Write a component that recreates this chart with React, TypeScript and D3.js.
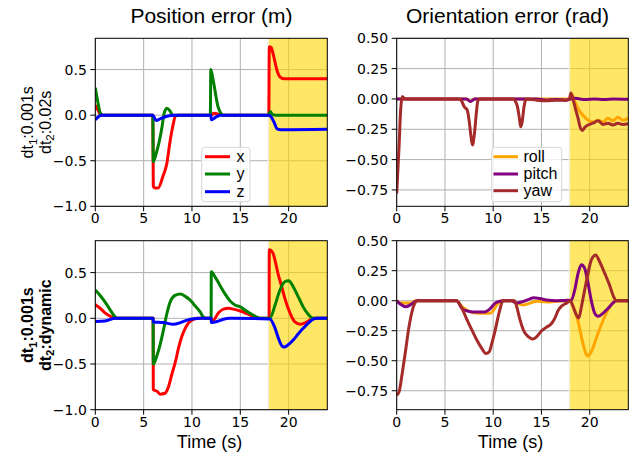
import React from "react";
import * as d3 from "d3";

type Pt = [number, number];

// ---- data (time in s, value) ----
const xTicks = [0, 5, 10, 15, 20];
const posTicks = [-1.0, -0.5, 0.0, 0.5];
const oriTicks = [-0.75, -0.5, -0.25, 0.0, 0.25, 0.5];
const colTitles = ["Position error (m)", "Orientation error (rad)"];
const posNames = ["x", "y", "z"];
const oriNames = ["roll", "pitch", "yaw"];
const posColors = ["#ff0000", "#008000", "#0000ff"];
const oriColors = ["#ffa500", "#800080", "#a52a2a"];
const shadeRange = [17.9, 24];

const posTopX: Pt[] = [[0,0.11],[0.3,0.05],[0.6,0],[5.95,0],[6.0,-0.78],[6.2,-0.8],[6.5,-0.8],[7.0,-0.67],[7.4,-0.53],[7.7,-0.31],[8.0,-0.13],[8.3,-0.01],[8.6,0],[11.95,0],[12.3,0.02],[12.8,0.01],[13.2,0],[17.95,0],[18.0,0.75],[18.2,0.74],[18.4,0.67],[18.8,0.49],[19.1,0.42],[19.5,0.40],[24,0.40]];
const posTopY: Pt[] = [[0,0.30],[0.2,0.18],[0.5,0.03],[0.8,0],[5.95,0],[6.0,-0.51],[6.3,-0.42],[6.9,-0.13],[7.1,0.01],[7.4,0.075],[7.7,0.05],[8.0,0],[11.9,0],[11.95,0.50],[12.2,0.38],[12.7,0.09],[13.0,0.02],[13.2,0],[17.9,0],[18.1,0.04],[18.3,0.01],[18.6,0],[24,0]];
const posTopZ: Pt[] = [[0,-0.05],[0.3,-0.02],[0.6,0],[5.95,0],[6.3,-0.06],[6.8,-0.035],[7.5,-0.01],[8.2,0],[11.95,0],[12.0,-0.05],[12.5,-0.02],[13.0,0],[17.9,0],[18.2,-0.02],[18.5,-0.08],[18.8,-0.15],[19.2,-0.16],[24,-0.155]];

const posBotX: Pt[] = [[0,0.15],[0.5,0.11],[1.0,0.06],[1.5,0.025],[2.1,0],[5.98,0],[6.0,-0.78],[6.4,-0.80],[6.7,-0.83],[7.2,-0.82],[7.6,-0.74],[7.9,-0.62],[8.3,-0.47],[8.6,-0.33],[8.95,-0.2],[9.3,-0.11],[9.65,-0.05],[10.0,-0.02],[10.5,0],[11.95,0],[12.15,-0.025],[12.75,0.06],[13.25,0.1],[13.8,0.11],[14.3,0.1],[15.0,0.08],[15.7,0.05],[16.35,0.02],[16.9,0],[17.98,0],[18.0,0.75],[18.35,0.72],[18.6,0.63],[18.9,0.49],[19.3,0.34],[19.6,0.22],[19.95,0.11],[20.3,0.02],[20.65,-0.04],[21.2,-0.065],[21.7,-0.05],[22.2,-0.02],[22.7,0],[24,0]];
const posBotY: Pt[] = [[0,0.31],[0.5,0.25],[1.0,0.18],[1.55,0.09],[2.1,0.01],[2.3,0],[5.98,0],[6.0,-0.5],[6.4,-0.40],[6.7,-0.29],[7.05,-0.13],[7.4,0.05],[7.75,0.18],[8.25,0.25],[8.8,0.265],[9.3,0.24],[9.8,0.2],[10.3,0.14],[10.85,0.07],[11.2,0.01],[11.4,0],[11.98,0],[12.0,0.51],[12.4,0.45],[12.9,0.36],[13.4,0.27],[13.95,0.19],[14.45,0.145],[15.0,0.125],[15.5,0.09],[16.0,0.055],[16.5,0.025],[16.9,0.005],[17.2,0],[18.05,0],[18.6,0.145],[19.1,0.31],[19.6,0.40],[20.0,0.41],[20.5,0.34],[21.0,0.235],[21.5,0.125],[22.0,0.047],[22.55,0],[24,0]];
const posBotZ: Pt[] = [[0,-0.036],[1.0,-0.03],[2.1,0],[5.98,0],[6.0,-0.04],[7.05,-0.047],[8.1,-0.065],[8.8,-0.047],[9.5,-0.02],[10.2,-0.005],[10.85,0],[11.98,0],[12.0,-0.045],[12.6,-0.035],[13.25,-0.01],[13.95,0],[18.05,-0.007],[18.6,-0.11],[18.95,-0.22],[19.3,-0.30],[19.55,-0.315],[19.95,-0.29],[20.5,-0.235],[21.0,-0.17],[21.5,-0.11],[22.0,-0.055],[22.55,-0.01],[22.9,0],[24,0]];

const oriTopRoll: Pt[] = [[0,0],[7.3,0],[7.65,-0.02],[8.0,0],[17.9,0],[18.1,0.04],[18.45,-0.02],[18.8,-0.08],[19.14,-0.12],[19.48,-0.15],[19.83,-0.175],[20.34,-0.19],[20.86,-0.175],[21.37,-0.19],[21.89,-0.16],[22.4,-0.18],[22.92,-0.15],[23.44,-0.175],[24,-0.16]];
const oriTopPitch: Pt[] = [[0,0],[7.2,0],[7.65,-0.02],[8.1,0],[14.5,0],[15.5,-0.01],[16.5,-0.005],[17.5,-0.01],[18.0,0],[18.5,0.005],[19.5,-0.005],[20.5,0],[21.5,-0.005],[22.5,0],[24,-0.003]];
const oriTopYaw: Pt[] = [[0,-0.78],[0.24,-0.4],[0.41,-0.09],[0.58,0.02],[0.76,0.005],[1.0,0],[6.5,0],[6.75,-0.02],[7.0,-0.065],[7.3,-0.09],[7.5,-0.175],[7.7,-0.31],[7.85,-0.38],[8.05,-0.29],[8.25,-0.12],[8.4,-0.02],[8.6,0],[12.1,0],[12.3,-0.02],[12.5,-0.06],[12.7,-0.15],[12.85,-0.23],[13.0,-0.19],[13.2,-0.06],[13.35,-0.01],[13.5,0],[14.5,-0.01],[15.5,-0.015],[16.5,-0.01],[17.6,-0.01],[17.9,0.0],[18.05,0.05],[18.3,-0.01],[18.55,-0.09],[18.8,-0.16],[19.0,-0.23],[19.25,-0.26],[19.48,-0.235],[19.83,-0.215],[20.34,-0.2],[20.86,-0.18],[21.37,-0.21],[21.89,-0.2],[22.4,-0.215],[22.92,-0.2],[23.44,-0.21],[24,-0.205]];

const oriBotRoll: Pt[] = [[0,0],[0.4,-0.02],[1.44,-0.02],[2.0,0],[6.2,0],[6.77,-0.05],[7.29,-0.08],[7.97,-0.1],[9.0,-0.105],[9.69,-0.105],[10.03,-0.08],[10.38,-0.035],[10.9,0],[11.9,0],[12.44,-0.02],[13.13,-0.035],[13.81,-0.02],[14.5,-0.005],[15.19,-0.008],[15.88,-0.01],[16.56,-0.005],[17.94,0],[18.45,-0.08],[18.8,-0.175],[19.14,-0.3],[19.48,-0.41],[19.76,-0.46],[20.17,-0.425],[20.69,-0.31],[21.2,-0.2],[21.72,-0.105],[22.23,-0.035],[22.68,0],[24,0]];
const oriBotPitch: Pt[] = [[0,0],[0.4,-0.03],[0.93,-0.05],[1.5,-0.03],[2.1,0],[6.2,0],[6.77,-0.065],[7.29,-0.085],[7.97,-0.095],[9.0,-0.095],[9.69,-0.065],[10.2,-0.02],[10.72,-0.005],[11.07,0],[11.9,0],[12.44,-0.02],[13.13,-0.005],[13.81,0.015],[14.16,0.025],[14.85,0.018],[15.53,0.005],[16.56,0],[18.1,0.005],[18.45,0.09],[18.8,0.23],[19.14,0.30],[19.48,0.27],[19.83,0.145],[20.17,0.0],[20.52,-0.105],[20.86,-0.13],[21.37,-0.105],[21.89,-0.065],[22.4,-0.02],[22.75,0],[24,0]];
const oriBotYaw: Pt[] = [[0,-0.785],[0.24,-0.76],[0.58,-0.6],[0.93,-0.41],[1.27,-0.22],[1.62,-0.08],[1.96,-0.01],[2.13,0],[6.2,0],[6.77,-0.065],[7.29,-0.16],[7.8,-0.245],[8.32,-0.33],[8.83,-0.4],[9.24,-0.44],[9.59,-0.425],[9.86,-0.355],[10.21,-0.245],[10.55,-0.12],[11.07,0],[12.2,0],[12.44,-0.05],[12.78,-0.16],[13.13,-0.245],[13.64,-0.3],[14.09,-0.32],[14.5,-0.3],[15.02,-0.25],[15.53,-0.22],[16.05,-0.19],[16.39,-0.145],[16.74,-0.08],[17.08,-0.045],[17.6,-0.02],[18.0,0],[18.28,-0.05],[18.63,-0.12],[18.87,-0.145],[19.14,-0.05],[19.48,0.09],[19.83,0.23],[20.17,0.34],[20.62,0.38],[21.03,0.325],[21.55,0.23],[22.06,0.13],[22.47,0.035],[22.75,0],[24,0]];

const SANS = "'Liberation Sans', Arial, sans-serif";
const TICKF = "'DejaVu Sans', sans-serif";

type PanelProps = {
  id: string;
  x0: number; x1: number; y0: number; y1: number;
  yDomain: [number, number];
  yTicks: number[];
  fmt: (v: number) => string;
  series: Pt[][];
  colors: string[];
  names?: string[];
  legend?: { x: number; y: number; w: number; h: number; lx0: number; lx1: number; tx: number; ys: number[] };
  xLabel?: boolean;
  title?: string;
  titleX?: number;
  xLabelX?: number;
};

function Panel(p: PanelProps) {
  const x = d3.scaleLinear().domain([0, 24]).range([p.x0, p.x1]);
  const y = d3.scaleLinear().domain(p.yDomain).range([p.y1, p.y0]);
  const line = d3.line<Pt>().x((d) => x(d[0])).y((d) => y(d[1])).curve(d3.curveMonotoneX);
  return (
    <g>
      <defs>
        <clipPath id={p.id}>
          <rect x={p.x0} y={p.y0} width={p.x1 - p.x0} height={p.y1 - p.y0} />
        </clipPath>
      </defs>
      {/* grid */}
      {xTicks.map((t) => (
        <line key={"gx" + t} x1={x(t)} x2={x(t)} y1={p.y0} y2={p.y1} stroke="#b0b0b0" strokeWidth={1} />
      ))}
      {p.yTicks.map((t) => (
        <line key={"gy" + t} x1={p.x0} x2={p.x1} y1={y(t)} y2={y(t)} stroke="#b0b0b0" strokeWidth={1} />
      ))}
      {/* shaded */}
      <rect x={x(shadeRange[0])} y={p.y0} width={x(shadeRange[1]) - x(shadeRange[0])} height={p.y1 - p.y0} fill="#ffd700" fillOpacity={0.6} />
      <line x1={x(shadeRange[0])} x2={x(shadeRange[0])} y1={p.y0} y2={p.y1} stroke="#f2eedc" strokeWidth={1.5} />
      <g clipPath={`url(#${p.id})`}>
        {p.series.map((s, i) => (
          <path key={i} d={line(s) || ""} fill="none" stroke={p.colors[i]} strokeWidth={3} strokeLinejoin="round" />
        ))}
      </g>
      {/* spines */}
      <rect x={p.x0} y={p.y0} width={p.x1 - p.x0} height={p.y1 - p.y0} fill="none" stroke="#000" strokeWidth={1} />
      {/* ticks */}
      {xTicks.map((t) => (
        <g key={"tx" + t}>
          <line x1={x(t)} x2={x(t)} y1={p.y1} y2={p.y1 + 5} stroke="#000" strokeWidth={1} />
          <text x={x(t)} y={p.y1 + 16.8} textAnchor="middle" fontFamily={TICKF} fontSize={14} fill="#000">{d3.format("d")(t)}</text>
        </g>
      ))}
      {p.yTicks.map((t) => (
        <g key={"ty" + t}>
          <line x1={p.x0 - 5} x2={p.x0} y1={y(t)} y2={y(t)} stroke="#000" strokeWidth={1} />
          <text x={p.x0 - 8.5} y={y(t)} dy="0.36em" textAnchor="end" fontFamily={TICKF} fontSize={14} fill="#000">{p.fmt(t)}</text>
        </g>
      ))}
      {p.legend && p.names && (
        <g>
          <rect x={p.legend.x} y={p.legend.y} width={p.legend.w} height={p.legend.h} rx={3} fill="#fff" fillOpacity={0.8} stroke="#d6d6d6" strokeWidth={1} />
          {p.names.map((n, i) => (
            <g key={n}>
              <line x1={p.legend!.lx0} x2={p.legend!.lx1} y1={p.legend!.ys[i]} y2={p.legend!.ys[i]} stroke={p.colors[i]} strokeWidth={3} />
              <text x={p.legend!.tx} y={p.legend!.ys[i] + 5} fontFamily={SANS} fontSize={16} fill="#000">{n}</text>
            </g>
          ))}
        </g>
      )}
      {p.title && (
        <text x={p.titleX} y={23.3} textAnchor="middle" fontFamily={SANS} fontSize={21} fill="#000">{p.title}</text>
      )}
      {p.xLabel && (
        <text x={p.xLabelX} y={447.5} textAnchor="middle" fontFamily={SANS} fontSize={18} fill="#000">Time (s)</text>
      )}
    </g>
  );
}

function RowLabel({ cy, bold, l2 }: { cy: number; bold: boolean; l2: string }) {
  const fw = bold ? "bold" : "normal";
  return (
    <g fontFamily={SANS} fontSize={16} fontWeight={fw} fill="#000">
      <text transform={`translate(33,${cy}) rotate(-90)`} textAnchor="middle">
        dt<tspan fontSize={11.5} dy={3.5}>1</tspan><tspan dy={-3.5}>:0.001s</tspan>
      </text>
      <text transform={`translate(50.5,${cy}) rotate(-90)`} textAnchor="middle">
        dt<tspan fontSize={11.5} dy={3.5}>2</tspan><tspan dy={-3.5}>{l2}</tspan>
      </text>
    </g>
  );
}

export default function App() {
  const f1 = (v: number) => d3.format(".1f")(v);
  const f2 = (v: number) => d3.format(".2f")(v);
  const L = { x0: 95.3, x1: 327.3 };
  const R = { x0: 396.7, x1: 628.3 };
  const T = { y0: 38.3, y1: 206.3 };
  const B = { y0: 240.7, y1: 409.7 };
  return (
    <svg width={634} height={453} style={{ position: "absolute", left: 0, top: 0, background: "#fff" }}>
      <rect width={634} height={453} fill="#fff" />
      <Panel id="c1" {...L} {...T} yDomain={[-1.0, 0.843]} yTicks={posTicks} fmt={f1}
        series={[posTopX, posTopY, posTopZ]} colors={posColors} names={posNames}
        legend={{ x: 201.7, y: 147.3, w: 48.3, h: 54.4, lx0: 205, lx1: 230, tx: 236.5, ys: [156.7, 174, 191.7] }}
        title={colTitles[0]} titleX={211.5} />
      <Panel id="c2" {...R} {...T} yDomain={[-0.885, 0.5]} yTicks={oriTicks} fmt={f2}
        series={[oriTopRoll, oriTopPitch, oriTopYaw]} colors={oriColors} names={oriNames}
        legend={{ x: 491.7, y: 147.3, w: 70, h: 54.4, lx0: 493.5, lx1: 518, tx: 523.5, ys: [156.7, 174, 190.7] }}
        title={colTitles[1]} titleX={507.5} />
      <Panel id="c3" {...L} {...B} yDomain={[-1.0, 0.849]} yTicks={posTicks} fmt={f1}
        series={[posBotX, posBotY, posBotZ]} colors={posColors} xLabel xLabelX={209.5} />
      <Panel id="c4" {...R} {...B} yDomain={[-0.908, 0.5]} yTicks={oriTicks} fmt={f2}
        series={[oriBotRoll, oriBotPitch, oriBotYaw]} colors={oriColors} xLabel xLabelX={510.5} />
      <RowLabel cy={122.3} bold={false} l2=":0.02s" />
      <RowLabel cy={325.2} bold={true} l2=":dynamic" />
    </svg>
  );
}
